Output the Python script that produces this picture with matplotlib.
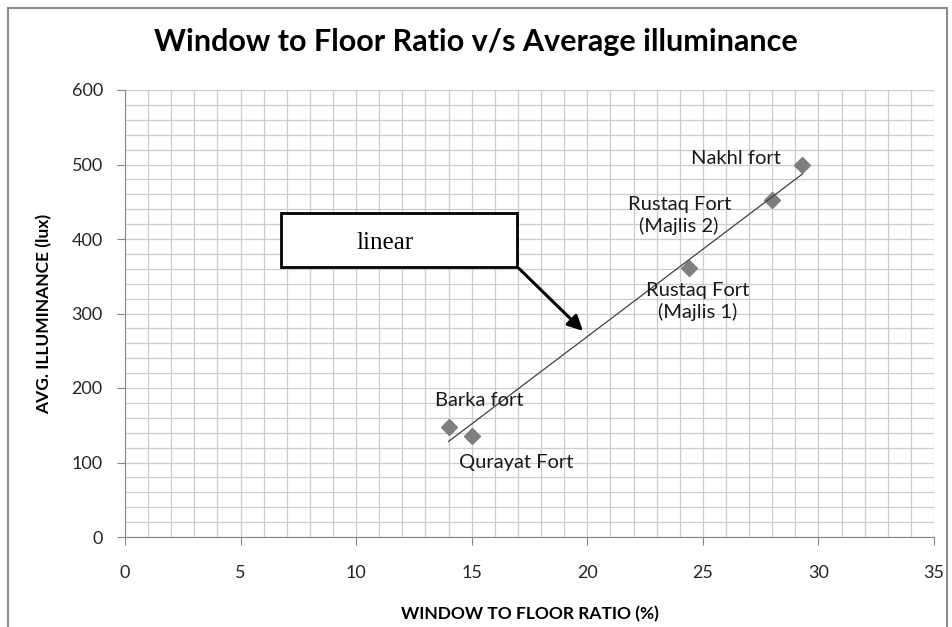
import numpy as np
import matplotlib
matplotlib.use('Agg')
import matplotlib.pyplot as plt
from matplotlib.ticker import MultipleLocator
from matplotlib.patches import Rectangle

# data
forts = ['Barka fort', 'Qurayat Fort', 'Rustaq Fort\n(Majlis 1)', 'Rustaq Fort\n(Majlis 2)', 'Nakhl fort']
wfr = [14, 15, 24.4, 28, 29.3]
illum = [148, 135, 361, 452, 500]

# label offsets in points from each marker
label_offsets = [(22, 19), (32, -19), (6, -24), (-67, -11), (-48, 4)]

plt.rcParams['font.family'] = ['Lato', 'DejaVu Sans']

fig = plt.figure(figsize=(9.52, 6.27), dpi=100)
ax = fig.add_axes([125/952, 1-537/627, 809/952, 447/627])

# chart border like excel
fig.patches.append(Rectangle((8/952, -0.05), 939/952, 1.05 - 8/627, transform=fig.transFigure,
                             fill=False, edgecolor='#8c8c8c', linewidth=1.5))

ax.set_xlim(0, 35)
ax.set_ylim(0, 600)
ax.xaxis.set_major_locator(MultipleLocator(5))
ax.xaxis.set_minor_locator(MultipleLocator(1))
ax.yaxis.set_major_locator(MultipleLocator(100))
ax.yaxis.set_minor_locator(MultipleLocator(20))
ax.grid(which='both', color='#cccccc', linewidth=0.9)
ax.set_axisbelow(True)
ax.tick_params(which='minor', length=0)
ax.tick_params(which='major', length=6, color='#868686', labelsize=13, labelcolor='#262626')
ax.tick_params(axis='x', pad=14)
ax.tick_params(axis='y', pad=10)
for s in ['top', 'right']:
    ax.spines[s].set_visible(False)
for s in ['left', 'bottom']:
    ax.spines[s].set_color('#868686')

ax.plot(wfr, illum, linestyle='none', marker='D', markersize=8.5, color='#7f7f7f')

# linear trendline
k, b = np.polyfit(wfr, illum, 1)
xs = np.array([min(wfr), max(wfr)])
ax.plot(xs, k*xs + b, color='#404040', linewidth=0.9)

for name, x, y, off in zip(forts, wfr, illum, label_offsets):
    ax.annotate(name, (x, y), xytext=off, textcoords='offset points',
                ha='center', va='center', fontsize=14.5, color='#1a1a1a', linespacing=1.25)

# "linear" callout box and arrow
ax.annotate('', xy=(19.9, 274), xytext=(16.96, 363),
            arrowprops=dict(arrowstyle='-|>,head_length=0.9,head_width=0.45', color='black', lw=2.2))
ax.add_patch(Rectangle((6.75, 363), 10.21, 72, facecolor='white', edgecolor='black', linewidth=2, zorder=5))
ax.text(11.25, 394, 'linear', fontsize=18, family='Liberation Serif', ha='center', va='center', zorder=6)

fig.text(0.5, 1 - 42/627, 'Window to Floor Ratio v/s Average illuminance', ha='center', va='center',
         fontsize=22, fontweight='bold')
ax.set_xlabel('WINDOW TO FLOOR RATIO (%)', fontsize=12.5, fontweight='bold', labelpad=18)
ax.set_ylabel('AVG. ILLUMINANCE (lux)', fontsize=12.5, fontweight='bold', labelpad=14)

fig.savefig('out.png', dpi=100)
